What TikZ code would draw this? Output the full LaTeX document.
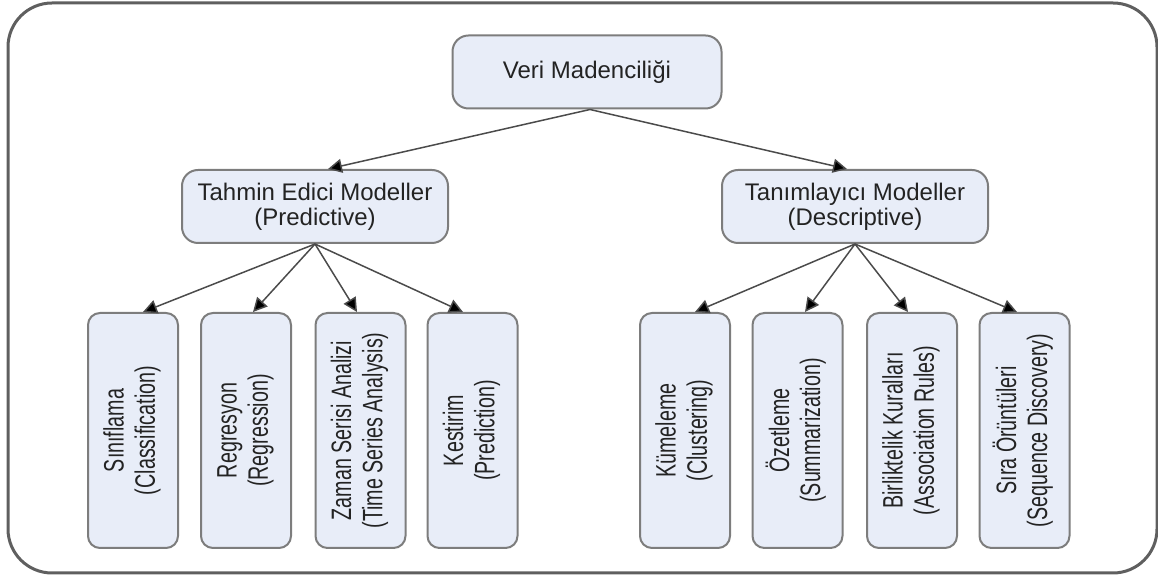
\documentclass[tikz,border=0pt]{standalone}
\usepackage{fontspec}
\setmainfont{Liberation Sans}
\usetikzlibrary{arrows.meta}
\definecolor{boxfill}{RGB}{232,237,248}
\definecolor{boxline}{RGB}{125,125,125}
\definecolor{frameline}{RGB}{95,95,95}
\definecolor{txt}{RGB}{35,35,35}
\definecolor{conncol}{RGB}{75,75,75}
\newcommand{\vtext}[2]{\rotatebox{90}{\scalebox{0.82}[1.17]{\renewcommand{\arraystretch}{0.95}\begin{tabular}{@{}c@{}}#1\\#2\end{tabular}}}}
\tikzset{
  framebox/.style={draw=frameline, line width=1.5pt, rounded corners=22pt},
  topbox/.style={draw=boxline, fill=boxfill, line width=1pt, rounded corners=8pt,
    minimum width=134.5pt, minimum height=36.5pt, inner sep=0pt, align=center,
    text=txt, font=\fontsize{12}{12.5}\selectfont},
  leafbox/.style={draw=boxline, fill=boxfill, line width=1pt, rounded corners=6pt,
    minimum width=45pt, minimum height=117.5pt, inner sep=0pt,
    text=txt, font=\fontsize{12}{14}\selectfont},
  conn/.style={draw=conncol, line width=0.75pt, -{Triangle[length=7pt,width=7pt,fill=black]}},
}
\begin{document}
\begin{tikzpicture}[x=0.5pt,y=-0.5pt]
\useasboundingbox (0,0) rectangle (1158,576);
\draw[framebox] (8,3) rectangle (1157,573);

\node[topbox] (top) at (587,72) {Veri Madenciliği};
\node[topbox, minimum width=133pt] (pred) at (315,206.5) {Tahmin Edici Modeller\\(Predictive)};
\node[topbox, minimum width=133pt] (desc) at (855,206.5) {Tanımlayıcı Modeller\\(Descriptive)};

\node[leafbox] (b1) at (133,430.5) {\vtext{Sınıflama}{(Classification)}};
\node[leafbox] (b2) at (246,430.5) {\vtext{Regresyon}{(Regression)}};
\node[leafbox] (b3) at (360.5,430.5) {\vtext{Zaman Serisi Analizi}{(Time Series Analysis)}};
\node[leafbox] (b4) at (472.5,430.5) {\vtext{Kestirim}{(Prediction)}};
\node[leafbox] (b5) at (685,430.5) {\vtext{Kümeleme}{(Clustering)}};
\node[leafbox] (b6) at (797.5,430.5) {\vtext{Özetleme}{(Summarization)}};
\node[leafbox] (b7) at (912,430.5) {\vtext{Birliktelik Kuralları}{(Association Rules)}};
\node[leafbox] (b8) at (1024.5,430.5) {\vtext{Sıra Örüntüleri}{(Sequence Discovery)}};

\draw[conn] ([xshift=1.5pt]top.south) -- ([xshift=6.5pt]pred.north);
\draw[conn] ([xshift=1.5pt]top.south) -- ([xshift=-4pt]desc.north);

\draw[conn] (pred.south) -- ([xshift=5pt]b1.north);
\draw[conn] (pred.south) -- ([xshift=3.5pt]b2.north);
\draw[conn] (pred.south) -- ([xshift=-1.75pt]b3.north);
\draw[conn] (pred.south) -- ([xshift=-4.75pt]b4.north);

\draw[conn] (desc.south) -- ([xshift=5pt]b5.north);
\draw[conn] (desc.south) -- ([xshift=3.75pt]b6.north);
\draw[conn] (desc.south) -- ([xshift=-2pt]b7.north);
\draw[conn] (desc.south) -- ([xshift=-3.75pt]b8.north);
\end{tikzpicture}
\end{document}
